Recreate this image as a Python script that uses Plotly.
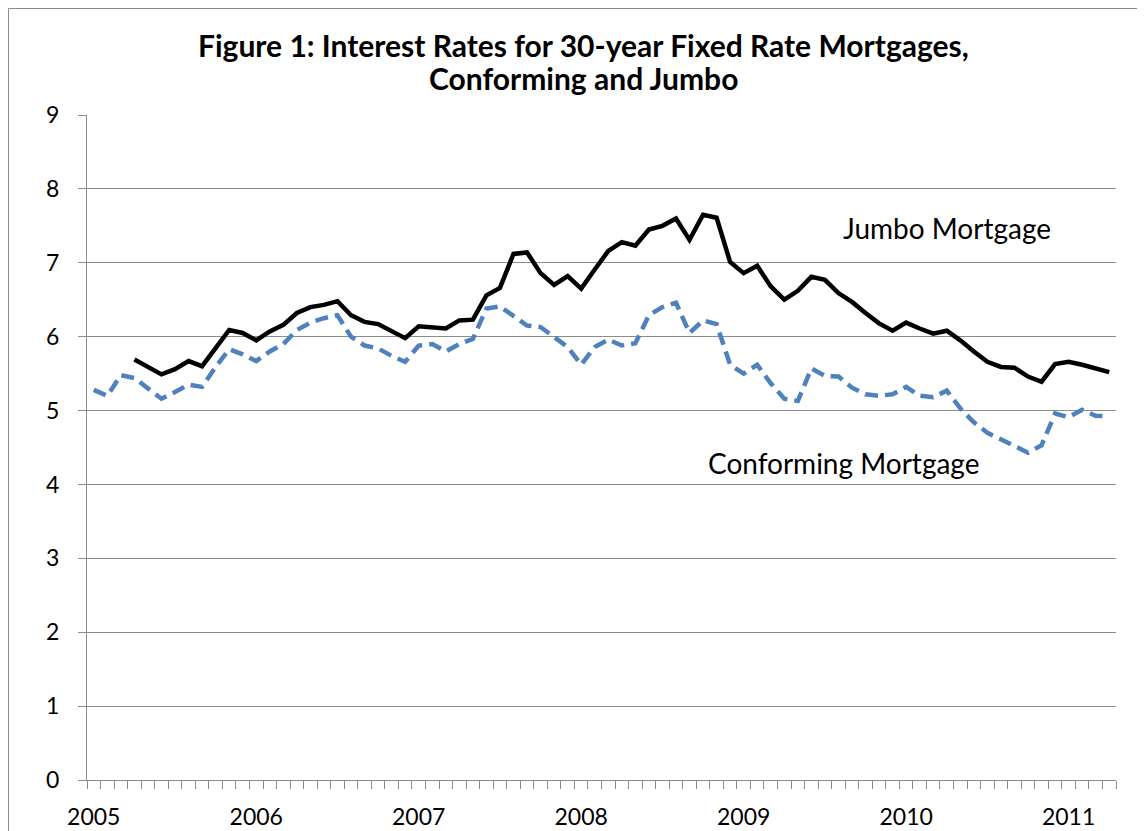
import plotly.graph_objects as go
import pandas as pd

# Monthly categories Jan 2005 - Apr 2011
months = [d.strftime("%b %Y") for d in pd.date_range("2005-01-01", "2011-04-01", freq="MS")]
year_labels = ["2005", "2006", "2007", "2008", "2009", "2010", "2011"]

jumbo = [None, None, None, 5.69, 5.59, 5.49, 5.56, 5.67, 5.60, 5.84,
         6.09, 6.05, 5.95, 6.07, 6.16, 6.32, 6.40, 6.43, 6.48, 6.29,
         6.20, 6.17, 6.08, 5.98, 6.14, 6.13, 6.11, 6.22, 6.23, 6.56,
         6.66, 7.12, 7.14, 6.86, 6.70, 6.82, 6.65, 6.91, 7.16, 7.28,
         7.23, 7.45, 7.50, 7.60, 7.31, 7.65, 7.61, 7.01, 6.86, 6.96,
         6.68, 6.50, 6.62, 6.81, 6.77, 6.59, 6.47, 6.32, 6.18, 6.08,
         6.19, 6.11, 6.04, 6.08, 5.95, 5.80, 5.66, 5.59, 5.58, 5.46,
         5.39, 5.63, 5.66, 5.62, 5.57, 5.52]

conforming = [5.28, 5.20, 5.48, 5.44, 5.30, 5.16, 5.25, 5.35, 5.32, 5.59,
              5.83, 5.76, 5.67, 5.80, 5.90, 6.09, 6.19, 6.25, 6.29, 6.00,
              5.88, 5.84, 5.74, 5.66, 5.88, 5.90, 5.80, 5.90, 5.97, 6.38,
              6.41, 6.28, 6.15, 6.13, 6.00, 5.86, 5.62, 5.86, 5.96, 5.88,
              5.91, 6.29, 6.40, 6.46, 6.05, 6.22, 6.17, 5.62, 5.50, 5.62,
              5.37, 5.16, 5.13, 5.57, 5.47, 5.46, 5.31, 5.22, 5.20, 5.22,
              5.32, 5.20, 5.18, 5.27, 5.03, 4.84, 4.70, 4.61, 4.52, 4.43,
              4.53, 4.96, 4.91, 5.01, 4.93, 4.92]

title_lines = ["Figure 1: Interest Rates for 30-year Fixed Rate Mortgages,",
               "Conforming and Jumbo"]

FONT = "Lato"
GRID = "#8c8c8c"

ticktext = []
yi = 0
for m in months:
    if m.startswith("Jan"):
        ticktext.append(year_labels[yi])
        yi += 1
    else:
        ticktext.append("")

W, H = 1137, 823  # page body has an 8px margin
L, R, T, B = 79, 29, 107, 51
PW, PH = W - L - R, H - T - B

fig = go.Figure()
fig.add_trace(go.Scatter(x=months, y=conforming, mode="lines", name="Conforming Mortgage",
                         line=dict(color="#4F81BD", width=4.5, dash="13px,7px")))
fig.add_trace(go.Scatter(x=months, y=jumbo, mode="lines", name="Jumbo Mortgage",
                         line=dict(color="black", width=4.5)))

fig.add_annotation(x=63.0, y=7.47, xref="x", yref="y", text="Jumbo Mortgage",
                   showarrow=False, font=dict(family=FONT, size=28, color="black"))
fig.add_annotation(x=55.4, y=4.29, xref="x", yref="y", text="Conforming Mortgage",
                   showarrow=False, font=dict(family=FONT, size=28, color="black"))

# two-line title
for text, yfig in zip(title_lines, [37, 70]):
    fig.add_annotation(x=(575 - L) / PW, y=1 + (T - yfig) / PH, xref="paper", yref="paper",
                       xanchor="center", yanchor="middle", showarrow=False,
                       text="<b>" + text + "</b>",
                       font=dict(family=FONT, size=30, color="black"))

fig.update_layout(
    width=W, height=H,
    margin=dict(l=L, r=R, t=T, b=B),
    paper_bgcolor="white", plot_bgcolor="white",
    showlegend=False,
    xaxis=dict(type="category", range=[-0.5, 75.5], tickmode="array",
               tickvals=months, ticktext=ticktext, tickson="boundaries",
               ticks="outside", ticklen=8, tickcolor=GRID, tickwidth=1,
               ticklabelstandoff=16, automargin=False,
               showgrid=False, showline=True, linecolor=GRID, linewidth=1,
               tickfont=dict(family=FONT, size=23, color="black"), tickangle=0),
    yaxis=dict(range=[0, 9], dtick=1, tick0=0, showgrid=True, gridcolor=GRID, gridwidth=1,
               showline=True, linecolor=GRID, linewidth=1, ticks="outside", ticklen=8,
               tickcolor=GRID, zeroline=False, ticklabelstandoff=14, automargin=False,
               tickfont=dict(family=FONT, size=23, color="black")),
)

# outer chart border
fig.add_shape(type="rect", xref="paper", yref="paper",
              x0=(0.5 - L) / PW, x1=(1133 - L) / PW, y0=-70 / PH, y1=1 + (T - 0.5) / PH,
              line=dict(color="#8c8c8c", width=1), fillcolor="rgba(0,0,0,0)", layer="below")

fig.write_html("out.html")
